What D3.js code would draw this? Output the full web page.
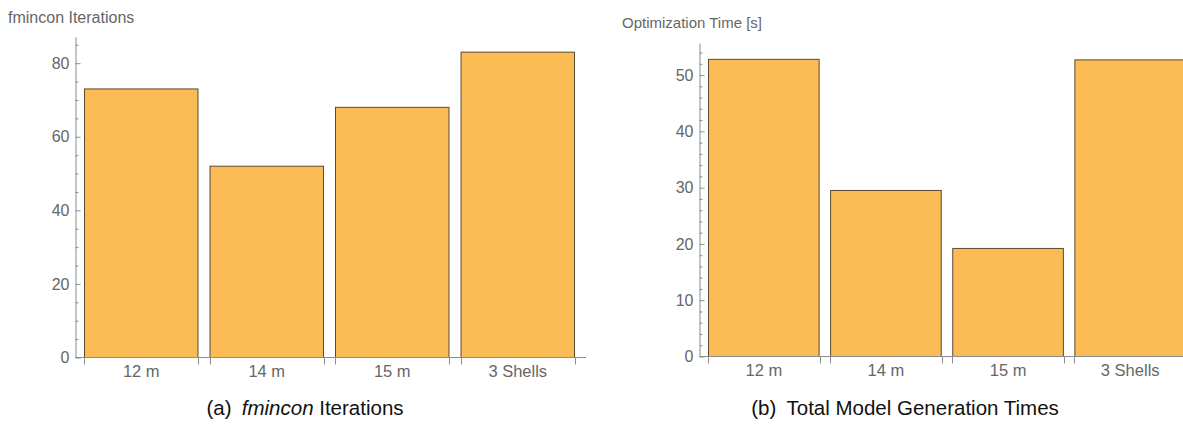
<!DOCTYPE html>
<html>
<head>
<meta charset="utf-8">
<script src="https://cdn.jsdelivr.net/npm/d3@7"></script>
<style>
  html, body { margin: 0; padding: 0; background: #fff; }
  svg { display: block; font-family: "Liberation Sans", Arial, sans-serif; }
</style>
</head>
<body>
<svg id="chart" width="1183" height="425"></svg>
<script>
// Categories shared by both panels
const categories = ["12 m", "14 m", "15 m", "3 Shells"];

// Panel (a): fmincon iterations per model
const iterations = [73, 52, 68, 83];
const iterMajorTicks = [0, 20, 40, 60, 80];
const iterMinorStep = 5;

// Panel (b): optimization time in seconds
const optTimes = [52.8, 29.5, 19.2, 52.7];
const timeMajorTicks = [0, 10, 20, 30, 40, 50];
const timeMinorStep = 2;

const titles = ["fmincon Iterations", "Optimization Time [s]"];

const barFill = "#fbbb55";
const barStroke = "#5c4a30";
const axisColor = "#8c8c8c";
const labelColor = "#666";

const svg = d3.select("#chart");

function panel(cfg) {
  const g = svg.append("g");

  const y = d3.scaleLinear().domain([0, cfg.yMax]).range([cfg.y0, cfg.yTop]);
  const x = d3.scaleBand().domain(categories)
    .range([cfg.xStart, cfg.xEnd]).paddingInner(cfg.pad).paddingOuter(0);

  // bars
  g.selectAll("rect.bar").data(cfg.values).join("rect")
    .attr("class", "bar")
    .attr("x", (d, i) => x(categories[i]) + 0.5)
    .attr("y", d => y(d))
    .attr("width", x.bandwidth() - 1)
    .attr("height", d => y(0) - y(d))
    .attr("fill", barFill)
    .attr("stroke", barStroke)
    .attr("stroke-width", 1);

  // minor ticks on the value axis
  const minor = d3.range(0, cfg.yMax, cfg.minorStep)
    .filter(v => !cfg.major.some(m => Math.abs(m - v) < 1e-9));
  const yMinor = g.append("g").attr("transform", `translate(${cfg.yAxisX},0)`)
    .call(d3.axisLeft(y).tickValues(minor).tickSizeInner(-3).tickSizeOuter(0).tickFormat(""));
  yMinor.select(".domain").remove();
  yMinor.selectAll("line").attr("stroke", axisColor);

  // major ticks and labels
  const yMajor = g.append("g").attr("transform", `translate(${cfg.yAxisX},0)`)
    .call(d3.axisLeft(y).tickValues(cfg.major).tickSizeInner(-5).tickSizeOuter(0).tickPadding(6));
  yMajor.select(".domain").attr("stroke", axisColor);
  yMajor.selectAll("line").attr("stroke", axisColor);
  yMajor.selectAll("text").attr("fill", labelColor).attr("font-size", 16)
    .attr("font-family", "Liberation Sans, Arial, sans-serif");

  // category axis: line, ticks at bar edges, centered labels
  const xAxisY = y(0);
  g.append("line")
    .attr("x1", cfg.yAxisX).attr("x2", cfg.xAxisEnd)
    .attr("y1", xAxisY).attr("y2", xAxisY)
    .attr("stroke", axisColor);
  const edges = [];
  categories.forEach(c => { edges.push(x(c)); edges.push(x(c) + x.bandwidth()); });
  g.selectAll("line.edge").data(edges).join("line")
    .attr("class", "edge")
    .attr("x1", d => Math.round(d) + 0.5).attr("x2", d => Math.round(d) + 0.5)
    .attr("y1", xAxisY).attr("y2", xAxisY + 7)
    .attr("stroke", axisColor);
  const xAx = g.append("g").attr("transform", `translate(0,${xAxisY})`)
    .call(d3.axisBottom(x).tickSize(0).tickPadding(8));
  xAx.select(".domain").remove();
  xAx.selectAll("text").attr("fill", labelColor).attr("font-size", 16.5)
    .attr("font-family", "Liberation Sans, Arial, sans-serif");

  // axis title
  g.append("text")
    .attr("x", cfg.titleX).attr("y", cfg.titleY)
    .attr("fill", labelColor).attr("font-size", cfg.titleSize)
    .text(cfg.title);

  // caption below the panel
  const cap = g.append("text")
    .attr("x", cfg.capX).attr("y", 415)
    .attr("text-anchor", "middle")
    .attr("fill", "#111").attr("font-size", 20.5);
  cap.append("tspan").text(cfg.capLabel);
  cfg.capParts.forEach(p => {
    cap.append("tspan").attr("font-style", p.italic ? "italic" : null).text(p.text);
  });
}

panel({
  values: iterations, major: iterMajorTicks, minorStep: iterMinorStep,
  yMax: 87.2, y0: 357.5, yTop: 36.7,
  xStart: 84, xEnd: 575, pad: 0.088, yAxisX: 75.5, xAxisEnd: 586,
  title: titles[0], titleX: 8, titleY: 23, titleSize: 16,
  capX: 305, capLabel: "(a)\u2002", capParts: [{ text: "fmincon", italic: true }, { text: " Iterations" }]
});

panel({
  values: optTimes, major: timeMajorTicks, minorStep: timeMinorStep,
  yMax: 55.7, y0: 356.5, yTop: 43,
  xStart: 708, xEnd: 1186, pad: 0.086, yAxisX: 699.5, xAxisEnd: 1190,
  title: titles[1], titleX: 622, titleY: 28, titleSize: 15,
  capX: 905, capLabel: "(b)\u2002", capParts: [{ text: "Total Model Generation Times" }]
});
</script>
</body>
</html>
